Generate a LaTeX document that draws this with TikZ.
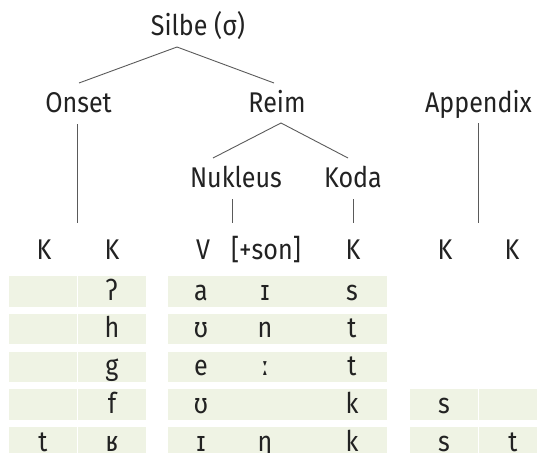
\documentclass[tikz,border=0pt]{standalone}
\usepackage{fontspec}
\setmainfont{Fira Sans}[FakeStretch=0.88]
\newfontfamily\ipafont{Fira Sans}[FakeStretch=0.88]
\definecolor{cellgreen}{HTML}{EFF3E4}
\definecolor{linegray}{HTML}{5A5A5A}
\definecolor{ink}{HTML}{222222}
\begin{document}
\begin{tikzpicture}[x=1pt,y=-1pt,
  lbl/.style={font=\fontsize{28.5}{32}\selectfont, text=ink, inner sep=0pt, anchor=base},
  txt/.style={font=\fontsize{28.5}{32}\selectfont, text=ink, inner sep=0pt, anchor=base},
  edge/.style={draw=linegray, line width=0.9pt}]
\useasboundingbox (0,0) rectangle (537,452);
% tree labels
\node[lbl] (silbe) at (198,35) {Silbe (σ)};
\node[lbl] (onset) at (78.5,112.5) {Onset};
\node[lbl] (reim) at (277,112.5) {Reim};
\node[lbl] (app) at (478.5,112.5) {Appendix};
\node[lbl] (nuk) at (236,187.5) {Nukleus};
\node[lbl] (koda) at (353,187.5) {Koda};
% connector end points
\coordinate (sA) at (177,47);
\coordinate (sL) at (79,83);
\coordinate (sR) at (274,83);
\coordinate (rA) at (281,123);
\coordinate (rL) at (213,158);
\coordinate (rR) at (348,158);
\coordinate (oT) at (77,124); \coordinate (oB) at (77,223);
\coordinate (nT) at (232,199); \coordinate (nB) at (232,223);
\coordinate (kT) at (353,199); \coordinate (kB) at (353,223);
\coordinate (aT) at (478,123); \coordinate (aB) at (478,223);
\draw[edge] (sL) -- (sA) -- (sR);
\draw[edge] (rL) -- (rA) -- (rR);
\draw[edge] (oT) -- (oB);
\draw[edge] (nT) -- (nB);
\draw[edge] (kT) -- (kB);
\draw[edge] (aT) -- (aB);
% cells
\foreach \i in {0,...,4}{
  \pgfmathsetmacro\t{276+37.75*\i}
  \fill[cellgreen] (9,\t) rectangle (76.8,\t+30.5);
  \fill[cellgreen] (77.8,\t) rectangle (146,\t+30.5);
  \fill[cellgreen] (168,\t) rectangle (387,\t+30.5);
}
\foreach \i in {3,4}{
  \pgfmathsetmacro\t{276+37.75*\i}
  \fill[cellgreen] (410,\t) rectangle (477.5,\t+30.5);
  \fill[cellgreen] (478.5,\t) rectangle (537,\t+30.5);
}
% header row
\node[txt] (h1) at (44,259) {K};
\node[txt] (h2) at (112,259) {K};
\node[txt] (h3) at (203,259) {V};
\node[txt] (h4) at (266,259) {[+son]};
\node[txt] (h5) at (353,259) {K};
\node[txt] (h6) at (445,259) {K};
\node[txt] (h7) at (512,259) {K};
% rows
\node[txt] (a2) at (112,300) {\ipafont ʔ};
\node[txt] (a3) at (201,300) {a};
\node[txt] (a4) at (265,300) {\ipafont ɪ};
\node[txt] (a5) at (352,300) {s};
\node[txt] (b2) at (112,337.75) {h};
\node[txt] (b3) at (201,337.75) {\ipafont ʊ};
\node[txt] (b4) at (265,337.75) {n};
\node[txt] (b5) at (352,337.75) {t};
\node[txt] (c2) at (112,375.5) {g};
\node[txt] (c3) at (201,375.5) {e};
\node[txt] (c4) at (265,375.5) {\ipafont ː};
\node[txt] (c5) at (352,375.5) {t};
\node[txt] (d2) at (112,413.25) {f};
\node[txt] (d3) at (201,413.25) {\ipafont ʊ};
\node[txt] (d5) at (352,413.25) {k};
\node[txt] (d6) at (444,413.25) {s};
\node[txt] (e1) at (43,451) {t};
\node[txt] (e2) at (112,451) {\ipafont ʁ};
\node[txt] (e3) at (201,451) {\ipafont ɪ};
\node[txt] (e4) at (265,451) {\ipafont ŋ};
\node[txt] (e5) at (352,451) {k};
\node[txt] (e6) at (444,451) {s};
\node[txt] (e7) at (513,451) {t};
\end{tikzpicture}
\end{document}
